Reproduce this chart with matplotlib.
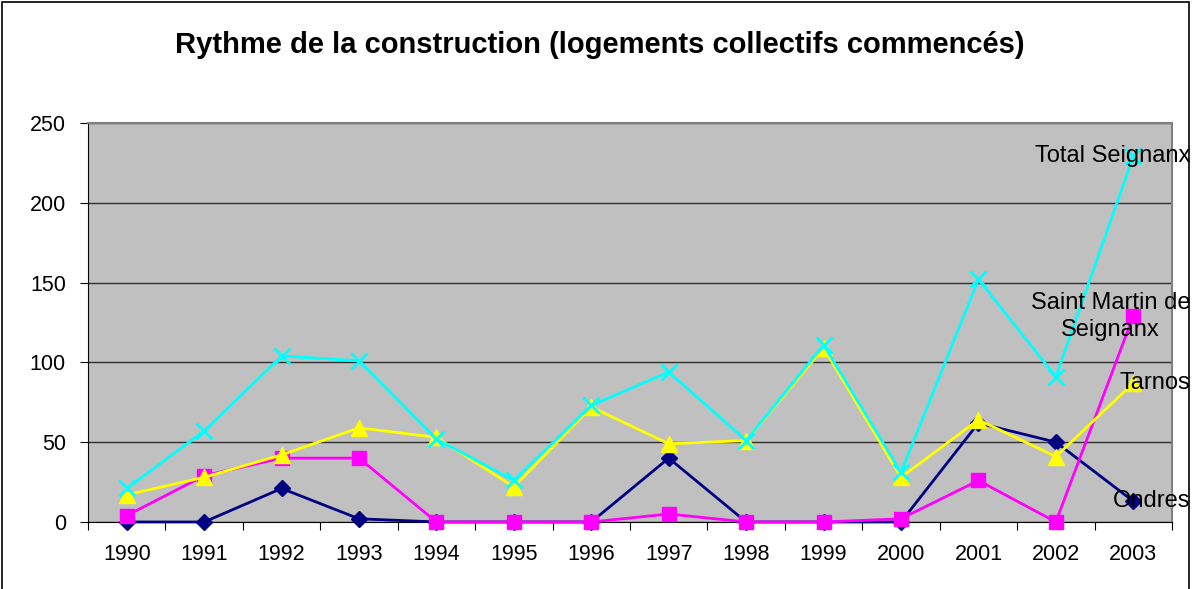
import matplotlib.pyplot as plt
import numpy as np
from matplotlib.patches import Rectangle

plt.rcParams['font.family'] = ['Liberation Sans', 'DejaVu Sans']

years = ['1990', '1991', '1992', '1993', '1994', '1995', '1996',
         '1997', '1998', '1999', '2000', '2001', '2002', '2003']
ondres = [0, 0, 21, 2, 0, 0, 0, 40, 0, 0, 0, 62, 50, 13]
saint_martin = [4, 29, 40, 40, 0, 0, 0, 5, 0, 0, 2, 26, 0, 129]
tarnos = [17, 28, 42, 59, 53, 22, 72, 49, 51, 109, 28, 64, 41, 87]
total = [21, 57, 104, 101, 52, 26, 73, 94, 51, 111, 31, 152, 91, 229]

series = [
    ('Ondres', ondres, '#000080', 'D', 8),
    ('Saint Martin de\nSeignanx', saint_martin, '#FF00FF', 's', 10),
    ('Tarnos', tarnos, '#FFFF00', '^', 12),
    ('Total Seignanx', total, '#00FFFF', 'x', 12),
]

fig = plt.figure(figsize=(11.93, 5.89), dpi=100)
ax = fig.add_axes([0.0738, 0.1138, 0.9086, 0.6774])
ax.set_facecolor('#C0C0C0')

x = np.arange(len(years))
for name, vals, col, mk, ms in series:
    ax.plot(x, vals, color=col, lw=2, marker=mk, markersize=ms,
            markeredgewidth=2 if mk == 'x' else 1, markeredgecolor=col,
            markerfacecolor=col, clip_on=False, zorder=3)
    ax.annotate(name, xy=(x[-1], vals[-1]), xytext=(57, 0),
                textcoords='offset pixels', ha='right', va='center',
                multialignment='center', fontsize=17, zorder=5,
                annotation_clip=False, linespacing=1.3)

ax.set_xlim(-0.5, len(years) - 0.5)
ax.set_ylim(0, 250)
ax.set_yticks(np.arange(0, 251, 50))
ax.yaxis.grid(True, color='#303030', lw=1)
ax.set_axisbelow(True)

ax.set_xticks(np.arange(-0.5, len(years), 1))
ax.set_xticklabels([])
ax.set_xticks(x, minor=True)
ax.set_xticklabels(years, minor=True)
ax.tick_params(axis='x', which='minor', length=0, pad=16, labelsize=15.5)
ax.tick_params(axis='x', which='major', length=6, direction='out', color='black')
ax.tick_params(axis='y', length=6, direction='out', labelsize=15.5, pad=10)

for s in ['top', 'right']:
    ax.spines[s].set_color('#808080')
    ax.spines[s].set_linewidth(1.5)
for s in ['left', 'bottom']:
    ax.spines[s].set_color('black')

fig.text(0.503, 0.923, 'Rythme de la construction (logements collectifs commencés)',
         ha='center', va='center', fontsize=21, fontweight='bold')

fig.patches.append(Rectangle((0.002, -0.01), 0.995, 1.006, transform=fig.transFigure,
                             fill=False, edgecolor='black', lw=1.2))

fig.savefig('out.png', dpi=100)
